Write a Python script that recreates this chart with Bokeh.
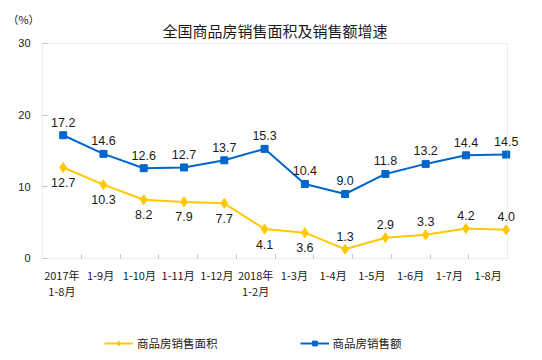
from bokeh.plotting import figure
from bokeh.models import (Range1d, FixedTicker, Label, Legend, LegendItem,
                          ColumnDataSource, BoxAnnotation)
from bokeh.embed import file_html
from bokeh.resources import INLINE
from bokeh.core.properties import value

# ---------------- data ----------------
categories = ["2017年\n1-8月", "1-9月", "1-10月", "1-11月", "1-12月", "2018年\n1-2月",
              "1-3月", "1-4月", "1-5月", "1-6月", "1-7月", "1-8月"]
area_growth = [12.7, 10.3, 8.2, 7.9, 7.7, 4.1, 3.6, 1.3, 2.9, 3.3, 4.2, 4.0]
amount_growth = [17.2, 14.6, 12.6, 12.7, 13.7, 15.3, 10.4, 9.0, 11.8, 13.2, 14.4, 14.5]
y_ticks = [0, 10, 20, 30]
series_names = ["商品房销售面积", "商品房销售额"]
title_text = "全国商品房销售面积及销售额增速"
unit_text = "（%）"

# ---------------- style ----------------
area_label_side = ["below"] * 7 + ["above"] * 5
amount_label_side = ["above"] * 12
YELLOW = "#FFC800"
BLUE = "#0066CC"
GREY = "#BFBFBF"
TXT = "#1a1a1a"
CJK = "Noto Sans CJK SC"
NUM = "Liberation Sans"

n = len(categories)
idx = list(range(n))

# the frame fills the whole canvas; axes are pinned to the plot box
p = figure(width=542, height=360, title=None,
           x_range=Range1d(-1.0839, n + 0.9032), y_range=Range1d(-14.233, 36.0),
           output_backend="svg", toolbar_location=None,
           min_border_left=0, min_border_right=0,
           min_border_top=0, min_border_bottom=0)
# points are spread slightly wider than the category slots (as in the source chart)
p.extra_x_ranges = {"pts": Range1d(-1.5569, 11.9013)}

p.background_fill_color = "white"
p.border_fill_color = "white"
p.outline_line_color = None
p.xgrid.visible = False
p.ygrid.visible = False

# plot box
p.add_layout(BoxAnnotation(left=0, right=n, bottom=y_ticks[0], top=y_ticks[-1],
                           fill_alpha=0, line_color=GREY, line_width=1))

# x axis pinned at y=0: labels at category centres, tick marks at boundaries
xa = p.xaxis[0]
xa.fixed_location = y_ticks[0]
xa.ticker = FixedTicker(ticks=[i + 0.5 for i in idx], minor_ticks=list(range(1, n)))
xa.major_label_overrides = {i + 0.5: c for i, c in zip(idx, categories)}
xa.axis_line_color = None
xa.major_tick_line_color = None
xa.major_tick_in = 0
xa.major_tick_out = 0
xa.minor_tick_line_color = GREY
xa.minor_tick_in = 4
xa.minor_tick_out = 0
xa.major_label_text_font = CJK
xa.major_label_text_font_size = "11px"
xa.major_label_text_line_height = 1.0
xa.major_label_text_color = TXT
xa.major_label_standoff = 9

# y axis pinned at the left edge of the box
ya = p.yaxis[0]
ya.fixed_location = 0
ya.ticker = FixedTicker(ticks=y_ticks, minor_ticks=[])
ya.axis_line_color = None
ya.major_tick_line_color = GREY
ya.major_tick_in = 5
ya.major_tick_out = 0
ya.minor_tick_line_color = None
ya.major_label_text_font = NUM
ya.major_label_text_font_size = "11px"
ya.major_label_text_color = TXT
ya.major_label_standoff = 12


def offs(sides):
    return [-13 if s == "above" else 15 for s in sides]


src_area = ColumnDataSource(dict(x=idx, y=area_growth, t=[f"{v:.1f}" for v in area_growth],
                                 off=offs(area_label_side)))
src_amt = ColumnDataSource(dict(x=idx, y=amount_growth, t=[f"{v:.1f}" for v in amount_growth],
                                off=offs(amount_label_side)))

l1 = p.line("x", "y", source=src_area, x_range_name="pts", line_color=YELLOW, line_width=2)
m1 = p.scatter("x", "y", source=src_area, x_range_name="pts", marker="diamond", size=10,
               fill_color=YELLOW, line_color=YELLOW)
l2 = p.line("x", "y", source=src_amt, x_range_name="pts", line_color=BLUE, line_width=2)
m2 = p.scatter("x", "y", source=src_amt, x_range_name="pts", marker="square", size=7,
               fill_color=BLUE, line_color=BLUE)

for s in (src_area, src_amt):
    p.text("x", "y", text="t", source=s, x_range_name="pts", y_offset="off",
           text_align="center", text_baseline="middle",
           text_font=value(NUM), text_font_size="12.5px", text_color=TXT)

# title and unit (screen units, measured from the bottom-left corner)
p.add_layout(Label(x=274.5, y=330, x_units="screen", y_units="screen", text=title_text,
                   text_align="center", text_baseline="middle",
                   text_font=CJK, text_font_size="15px", text_color=TXT))
p.add_layout(Label(x=23, y=342, x_units="screen", y_units="screen", text=unit_text,
                   text_align="center", text_baseline="middle",
                   text_font=CJK, text_font_size="11px", text_color=TXT))

legend = Legend(items=[LegendItem(label=series_names[0], renderers=[l1, m1]),
                       LegendItem(label=series_names[1], renderers=[l2, m2])],
                orientation="horizontal", location=(104, 9),
                glyph_width=29, glyph_height=12, label_standoff=4, spacing=82,
                padding=0, margin=0,
                label_text_font=CJK, label_text_font_size="11.5px", label_text_color=TXT,
                border_line_color=None, background_fill_alpha=0)
p.add_layout(legend, "center")

open("out.html", "w").write(file_html(p, INLINE))
